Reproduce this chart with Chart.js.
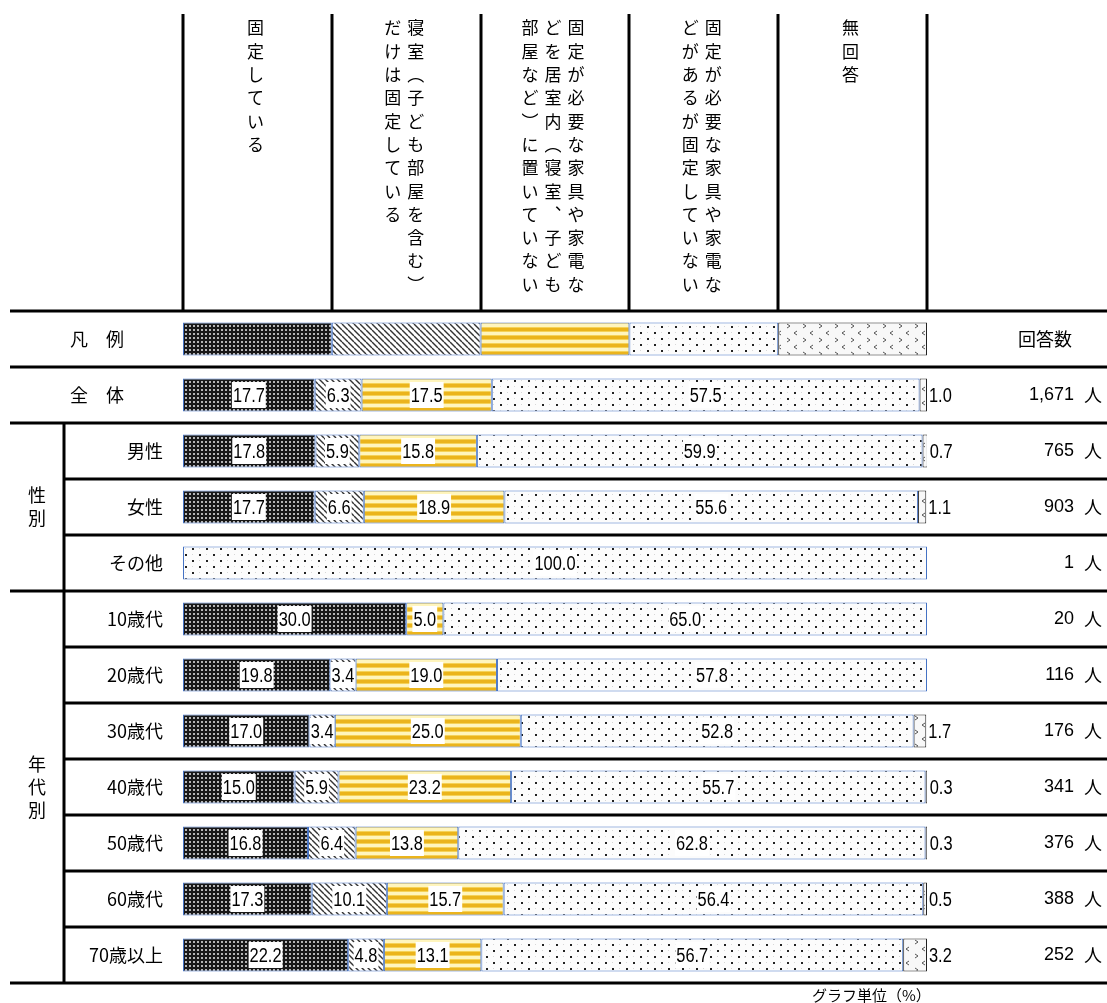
<!DOCTYPE html>
<html lang="ja">
<head>
<meta charset="utf-8">
<title>家具の固定状況</title>
<script src="https://cdn.jsdelivr.net/npm/chart.js@4/dist/chart.umd.min.js"></script>
<style>
  html, body { margin: 0; padding: 0; background: #fff; }
  #chart { display: block; }
</style>
</head>
<body>
<canvas id="chart" width="1107" height="1003"></canvas>
<script>
// 行（先頭は凡例の行）
const categories = ['凡　例', '全　体', '男性', '女性', 'その他', '10歳代', '20歳代', '30歳代', '40歳代', '50歳代', '60歳代', '70歳以上'];

// 系列（%）
const fixedAll    = [20, 17.7, 17.8, 17.7, 0, 30.0, 19.8, 17.0, 15.0, 16.8, 17.3, 22.2];
const bedroomOnly = [20, 6.3, 5.9, 6.6, 0, 0, 3.4, 3.4, 5.9, 6.4, 10.1, 4.8];
const noFurniture = [20, 17.5, 15.8, 18.9, 0, 5.0, 19.0, 25.0, 23.2, 13.8, 15.7, 13.1];
const notFixed    = [20, 57.5, 59.9, 55.6, 100.0, 65.0, 57.8, 52.8, 55.7, 62.8, 56.4, 56.7];
const noAnswer    = [20, 1.0, 0.7, 1.1, 0, 0, 0, 1.7, 0.3, 0.3, 0.5, 3.2];

// 回答数
const respondents = ['', '1,671', '765', '903', '1', '20', '116', '176', '341', '376', '388', '252'];

// 見出し（縦書き、右の行から）
const headers = [
  ['固定している'],
  ['寝室（子ども部屋を含む）', 'だけは固定している'],
  ['固定が必要な家具や家電な', 'どを居室内（寝室、子ども', '部屋など）に置いていない'],
  ['固定が必要な家具や家電な', 'どがあるが固定していない'],
  ['無回答']
];

const groups = [
  { label: ['性', '別'], from: 2, to: 4 },
  { label: ['年', '代', '別'], from: 5, to: 11 }
];

const JP = "'Noto Sans CJK JP', sans-serif";
const NUM = "'Liberation Sans', 'Noto Sans CJK JP', sans-serif";

function makePattern(w, h, draw) {
  const c = document.createElement('canvas');
  c.width = w; c.height = h;
  const g = c.getContext('2d');
  draw(g);
  return g.createPattern(c, 'repeat');
}

const darkDots = makePattern(4, 4, g => {
  g.fillStyle = '#181818'; g.fillRect(0, 0, 4, 4);
  g.fillStyle = '#b5b5b5'; g.fillRect(1, 1, 2, 2);
});

const diagonal = makePattern(6, 6, g => {
  g.fillStyle = '#fff'; g.fillRect(0, 0, 6, 6);
  g.strokeStyle = '#333'; g.lineWidth = 1.4;
  for (const x of [-6, 0, 6]) {
    g.beginPath(); g.moveTo(x, 0); g.lineTo(x + 6, 6); g.stroke();
  }
});

const yellowStripes = makePattern(4, 8, g => {
  g.fillStyle = '#ebb41c'; g.fillRect(0, 0, 4, 3);
  g.fillStyle = '#f5d258'; g.fillRect(0, 3, 4, 1);
  g.fillStyle = '#fff5bd'; g.fillRect(0, 4, 4, 3);
  g.fillStyle = '#f5d258'; g.fillRect(0, 7, 4, 1);
});

const sparseDots = makePattern(14, 12, g => {
  g.fillStyle = '#fcfcfc'; g.fillRect(0, 0, 14, 12);
  g.fillStyle = '#222';
  g.fillRect(3, 2, 2, 2);
  g.fillRect(10, 8, 2, 2);
  g.fillStyle = '#d8d8d8';
  g.fillRect(10, 2, 1, 1);
  g.fillRect(3, 8, 1, 1);
});

const chevrons = makePattern(16, 14, g => {
  g.fillStyle = '#f8f8f8'; g.fillRect(0, 0, 16, 14);
  g.strokeStyle = '#555'; g.lineWidth = 1;
  g.beginPath(); g.moveTo(3, 2); g.lineTo(6, 4); g.lineTo(3, 6); g.stroke();
  g.beginPath(); g.moveTo(13, 9); g.lineTo(10, 11); g.lineTo(13, 13); g.stroke();
});

function ds(label, data, bg, border) {
  return {
    label, data,
    backgroundColor: bg,
    borderColor: border,
    borderWidth: c => (c.raw > 0 ? 1 : 0),
    borderSkipped: false,
    barPercentage: 0.59,
    categoryPercentage: 1
  };
}

const tablePlugin = {
  id: 'table',
  beforeDatasetsDraw(chart) {
    const ctx = chart.ctx;
    const x = chart.scales.x, y = chart.scales.y;
    const area = chart.chartArea;
    const bound = i => (y.getPixelForValue(i) + y.getPixelForValue(i + 1)) / 2;
    ctx.save();
    ctx.strokeStyle = '#000';
    ctx.lineWidth = 3;
    // 見出しの縦線
    for (let v = 0; v <= 100; v += 20) {
      const px = Math.round(x.getPixelForValue(v));
      ctx.beginPath(); ctx.moveTo(px, 14); ctx.lineTo(px, area.top); ctx.stroke();
    }
    // 横線
    const full = [area.top, bound(0), bound(1), bound(4), area.bottom];
    full.forEach(py => {
      ctx.beginPath(); ctx.moveTo(10, py); ctx.lineTo(1107, py); ctx.stroke();
    });
    groups.forEach(gr => {
      for (let i = gr.from; i < gr.to; i++) {
        const py = bound(i);
        ctx.beginPath(); ctx.moveTo(64, py); ctx.lineTo(1107, py); ctx.stroke();
      }
    });
    ctx.beginPath(); ctx.moveTo(64, bound(1)); ctx.lineTo(64, area.bottom); ctx.stroke();

    // 見出しの文字（縦書き）
    const vert = { '（': '︵', '）': '︶', '、': '︑' };
    ctx.fillStyle = '#000';
    ctx.font = '17px ' + JP;
    ctx.textAlign = 'center';
    ctx.textBaseline = 'middle';
    headers.forEach((lines, c) => {
      const cx = (x.getPixelForValue(c * 20) + x.getPixelForValue(c * 20 + 20)) / 2 - 2;
      const n = lines.length;
      lines.forEach((line, j) => {
        const lx = cx + (n - 1) / 2 * 23 - j * 23;
        [...line].forEach((ch, k) => {
          ctx.fillText(vert[ch] || ch, lx, 28 + k * 23.3);
        });
      });
    });

    // 行見出し
    ctx.font = '18px ' + JP;
    categories.forEach((cat, i) => {
      const py = y.getPixelForValue(i);
      if (i < 2) {
        ctx.textAlign = 'center';
        ctx.fillText(cat, 97, py);
      } else {
        ctx.textAlign = 'right';
        ctx.fillText(cat, 163, py);
      }
    });
    ctx.textAlign = 'center';
    groups.forEach(gr => {
      const mid = (bound(gr.from - 1) + bound(gr.to)) / 2;
      const n = gr.label.length;
      gr.label.forEach((ch, k) => {
        ctx.fillText(ch, 37, mid + (k - (n - 1) / 2) * 23);
      });
    });

    // 回答数
    ctx.fillText('回答数', 1045, y.getPixelForValue(0));
    respondents.forEach((r, i) => {
      if (!r) return;
      const py = y.getPixelForValue(i);
      ctx.textAlign = 'center';
      ctx.font = '18px ' + JP;
      ctx.fillText('人', 1093, py);
      ctx.textAlign = 'right';
      ctx.font = '18px ' + NUM;
      ctx.fillText(r, 1074, py);
    });

    ctx.textAlign = 'left';
    ctx.font = '15px ' + JP;
    ctx.fillText('グラフ単位（%）', 812, 995);
    ctx.restore();
  },
  afterDatasetsDraw(chart) {
    const ctx = chart.ctx;
    ctx.save();
    ctx.font = '20px ' + NUM;
    ctx.textBaseline = 'middle';
    const sx = 0.82;
    chart.data.datasets.forEach((d, di) => {
      const meta = chart.getDatasetMeta(di);
      d.data.forEach((v, i) => {
        if (i === 0 || !(v > 0)) return;
        const bar = meta.data[i];
        const txt = v.toFixed(1);
        const tw = ctx.measureText(txt).width * sx;
        if (di === 4) {
          ctx.save();
          ctx.translate(bar.x + 2, bar.y);
          ctx.scale(sx, 1);
          ctx.fillStyle = '#000';
          ctx.textAlign = 'left';
          ctx.fillText(txt, 0, 1);
          ctx.restore();
          return;
        }
        const cx = (bar.x + bar.base) / 2;
        ctx.fillStyle = '#fff';
        ctx.fillRect(cx - tw / 2 - 1, bar.y - 13, tw + 2, 26);
        ctx.save();
        ctx.translate(cx, bar.y);
        ctx.scale(sx, 1);
        ctx.fillStyle = '#000';
        ctx.textAlign = 'center';
        ctx.fillText(txt, 0, 1);
        ctx.restore();
      });
    });
    ctx.restore();
  }
};

new Chart(document.getElementById('chart'), {
  type: 'bar',
  data: {
    labels: categories,
    datasets: [
      ds('固定している', fixedAll, darkDots, '#4472c4'),
      ds('寝室（子ども部屋を含む）だけは固定している', bedroomOnly, diagonal, '#4472c4'),
      ds('固定が必要な家具や家電などを居室内（寝室、子ども部屋など）に置いていない', noFurniture, yellowStripes, '#4472c4'),
      ds('固定が必要な家具や家電などがあるが固定していない', notFixed, sparseDots, '#4472c4'),
      ds('無回答', noAnswer, chevrons, '#222')
    ]
  },
  options: {
    responsive: false,
    animation: false,
    indexAxis: 'y',
    layout: { padding: { left: 183, right: 180, top: 311, bottom: 20 } },
    scales: {
      x: { stacked: true, min: 0, max: 100, display: false },
      y: { stacked: true, display: false }
    },
    plugins: {
      legend: { display: false },
      tooltip: { enabled: false }
    }
  },
  plugins: [tablePlugin]
});
</script>
</body>
</html>
